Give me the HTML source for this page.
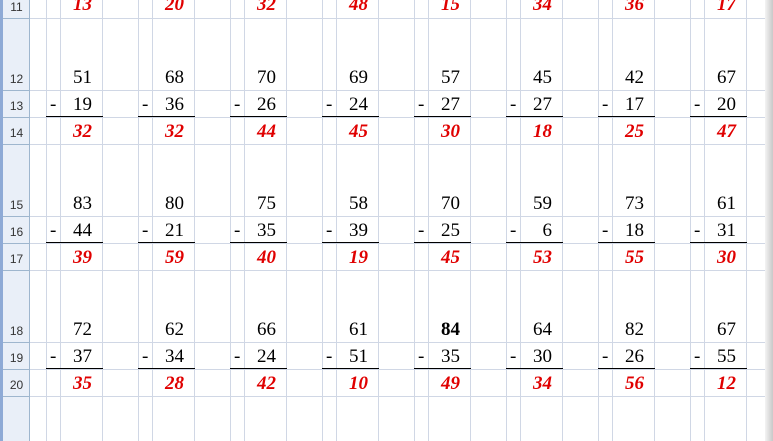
<!DOCTYPE html>
<html><head><meta charset="utf-8"><style>
body{margin:0;width:773px;height:441px;overflow:hidden;background:#fff;position:relative;font-family:"Liberation Serif",serif}
.a{position:absolute}
.v{position:absolute;top:0;height:441px;width:1px;background:#d0d7e5}
.h{position:absolute;left:30px;width:735px;height:1px;background:#d0d7e5}
.hh{position:absolute;left:3px;width:27px;height:1px;background:#9eb6ce}
.rl{position:absolute;left:3px;width:27px;text-align:center;font:12px "Liberation Sans",sans-serif;color:#333}
.n{position:absolute;width:60px;text-align:right;font-size:19px;color:#000;line-height:20px}
.r{color:#e00000;font-weight:bold;font-style:italic}
.m{position:absolute;font-size:19px;line-height:20px}
.ul{position:absolute;height:1px;background:#000;width:57px}
</style></head><body>
<div class="a" style="left:0;top:0;width:30px;height:441px;background:#e9eff8;border-right:1px solid #9eb6ce;box-sizing:border-box"></div>
<div class="a" style="left:0;top:0;width:3px;height:441px;background:#8eaad6"></div>
<div class="a" style="left:765px;top:0;width:8px;height:441px;background:linear-gradient(90deg,#f4f4f4,#c8c8c8)"></div>
<div id="g"></div>
<script>
const row11 = [13,20,32,48,15,34,36,17];
const tops = [[51,68,70,69,57,45,42,67],[83,80,75,58,70,59,73,61],[72,62,66,61,84,64,82,67]];
const subs = [[19,36,26,24,27,27,17,20],[44,21,35,39,25,6,18,31],[37,34,24,51,35,30,26,55]];
const answers = [[32,32,44,45,30,18,25,47],[39,59,40,19,45,53,55,30],[35,28,42,10,49,34,56,12]];
const rowLabels = [11,12,13,14,15,16,17,18,19,20];
const g=document.getElementById('g');
function add(cls,style,txt,name,inter){const e=document.createElement('div');e.className=cls;e.style.cssText=style;if(txt!==undefined)e.textContent=txt;


g.appendChild(e);return e;}
for(let k=0;k<8;k++){[46,60,102].forEach(x=>add('v','left:'+(x+92*k)+'px',undefined,'column-gridline',false));}
// row boundaries
const bounds=[18];
for(let b=0;b<3;b++){const y0=18+126*b;bounds.push(y0+72,y0+99,y0+126);}
bounds.forEach(y=>{add('h','top:'+y+'px',undefined,'row-gridline',false);add('hh','top:'+y+'px',undefined,'row-header-border',false);});
// row labels
const rowBottoms=[18].concat(bounds.slice(1));
rowLabels.forEach((l,i)=>{const b=rowBottoms[i];add('rl','top:'+(b-18)+'px',String(l),'row-label',true);});
// row 11 answers
row11.forEach((v,k)=>add('n r','left:'+(32+92*k)+'px;top:-5px',String(v),'answer-cell',true));
for(let b=0;b<3;b++){const y0=18+126*b;
for(let k=0;k<8;k++){const x=32+92*k;
const t=add('n','left:'+x+'px;top:'+(y0+50)+'px',String(tops[b][k]),'minuend-cell',true);
if(b==2&&k==4)t.style.fontWeight='bold';
add('m','left:'+(50+92*k)+'px;top:'+(y0+77)+'px','-','minus-sign',false);
add('n','left:'+x+'px;top:'+(y0+77)+'px',String(subs[b][k]),'subtrahend-cell',true);
add('ul','left:'+(46+92*k)+'px;top:'+(y0+98)+'px',undefined,'underline',false);
add('n r','left:'+x+'px;top:'+(y0+104)+'px',String(answers[b][k]),'answer-cell',true);
}}
</script>
</body></html>
